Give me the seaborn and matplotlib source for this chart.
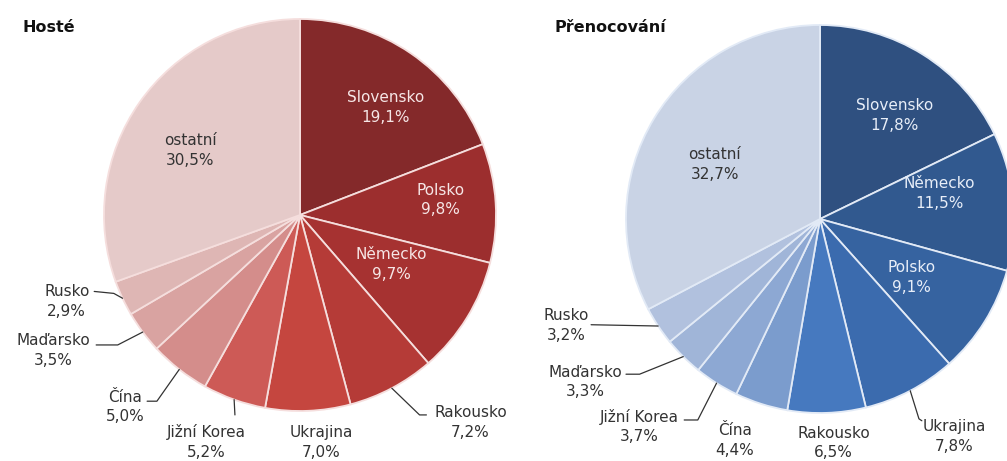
import numpy as np
import matplotlib
matplotlib.use("Agg")
import matplotlib.pyplot as plt
import seaborn as sns

#%% Data (shares in %)
countries_guests = ["Slovensko", "Polsko", "Německo", "Rakousko", "Ukrajina",
                    "Jižní Korea", "Čína", "Maďarsko", "Rusko", "ostatní"]
share_guests = [19.1, 9.8, 9.7, 7.2, 7.0, 5.2, 5.0, 3.5, 2.9, 30.5]

countries_nights = ["Slovensko", "Německo", "Polsko", "Ukrajina", "Rakousko",
                    "Čína", "Jižní Korea", "Maďarsko", "Rusko", "ostatní"]
share_nights = [17.8, 11.5, 9.1, 7.8, 6.5, 4.4, 3.7, 3.3, 3.2, 32.7]

titles = ["Hosté", "Přenocování"]

#%% Appearance
sns.set_theme(style="white")
plt.rcParams['font.family'] = ['DejaVu Sans']

reds = sns.color_palette(["#84292A", "#9C2E2E", "#A63231", "#B53B37", "#C5463F",
                          "#CD5A56", "#D48D8B", "#D9A3A1", "#DEB6B4", "#E5CAC9"])
blues = sns.color_palette(["#2F5080", "#31598F", "#3663A0", "#3B6BAE", "#4679BF",
                           "#7B9CCD", "#8DA8D3", "#A0B5D8", "#B1C1DE", "#C9D3E5"])

# label layout in pie-radius units
# inside: ("in", radius, angle nudge) ; outside: ("out", (x, y), leader points)
layout_guests = [
    ("in", 0.70, -4), ("in", 0.72, 2.6), ("in", 0.53, 3.4),
    ("out", (0.87, -1.06), [(0.61, -1.02), (0.645, -1.02)]),
    ("out", (0.11, -1.16), None),
    ("out", (-0.48, -1.16), [(-0.332, -1.02)]),
    ("out", (-0.89, -0.98), [(-0.73, -0.95), (-0.78, -0.95)]),
    ("out", (-1.26, -0.69), [(-0.93, -0.663), (-1.04, -0.663)]),
    ("out", (-1.19, -0.44), [(-0.95, -0.40), (-1.05, -0.39)]),
    ("in", 0.65, 4.5),
]
layout_nights = [
    ("in", 0.66, -3.8), ("in", 0.63, 7), ("in", 0.56, -0.8),
    ("out", (0.69, -1.12), [(0.51, -1.03), (0.525, -1.04)]),
    ("out", (0.07, -1.155), None),
    ("out", (-0.44, -1.14), None),
    ("out", (-0.93, -1.07), [(-0.63, -1.036), (-0.70, -1.036)]),
    ("out", (-1.21, -0.84), [(-0.93, -0.80), (-1.0, -0.80)]),
    ("out", (-1.31, -0.55), [(-1.18, -0.545)]),
    ("in", 0.61, 3.9),
]

W, H = 1007, 461
fig = plt.figure(figsize=(W / 100, H / 100), dpi=100)


def draw_pie(rect, names, values, colors, edge, light_text, layout, title, title_x):
    ax = fig.add_axes(rect)
    wedges, _ = ax.pie(values, colors=colors, startangle=90, counterclock=False,
                       wedgeprops=dict(edgecolor=edge, linewidth=1.3))
    ax.set_xlim(-1, 1)
    ax.set_ylim(-1, 1)
    ax.set_aspect("equal")
    ax.set_axis_off()

    for i, (w, name, val, spec) in enumerate(zip(wedges, names, values, layout)):
        mid = np.deg2rad((w.theta1 + w.theta2) / 2)
        txt = (name + "\n" + f"{val:.1f}%").replace(".", ",")
        if spec[0] == "in":
            a = mid + np.deg2rad(spec[2])
            x, y = spec[1] * np.cos(a), spec[1] * np.sin(a)
            col = "#333333" if i == len(values) - 1 else light_text
            ax.text(x, y, txt, ha="center", va="center", fontsize=11,
                    color=col, linespacing=1.4)
        else:
            x, y = spec[1]
            ax.text(x, y, txt, ha="center", va="center", fontsize=11,
                    color="#333333", linespacing=1.4)
            if spec[2] is not None:
                pts = [(np.cos(mid), np.sin(mid))] + spec[2]
                xs, ys = zip(*pts)
                ax.plot(xs, ys, color="#333333", lw=0.9, clip_on=False)

    fig.text(title_x / W, 1 - 28 / H, title, fontsize=11.5, fontweight="bold",
             color="#111111", ha="left", va="center")
    return ax


draw_pie([104 / W, 50 / H, 392 / W, 392 / H], countries_guests, share_guests,
         reds, "#F5DEDD", "#F6E6E6", layout_guests, titles[0], 22)
draw_pie([626 / W, 48 / H, 388 / W, 388 / H], countries_nights, share_nights,
         blues, "#E2EAF6", "#E8EEF8", layout_nights, titles[1], 555)

fig.savefig("out.png", dpi=100, facecolor="white")
